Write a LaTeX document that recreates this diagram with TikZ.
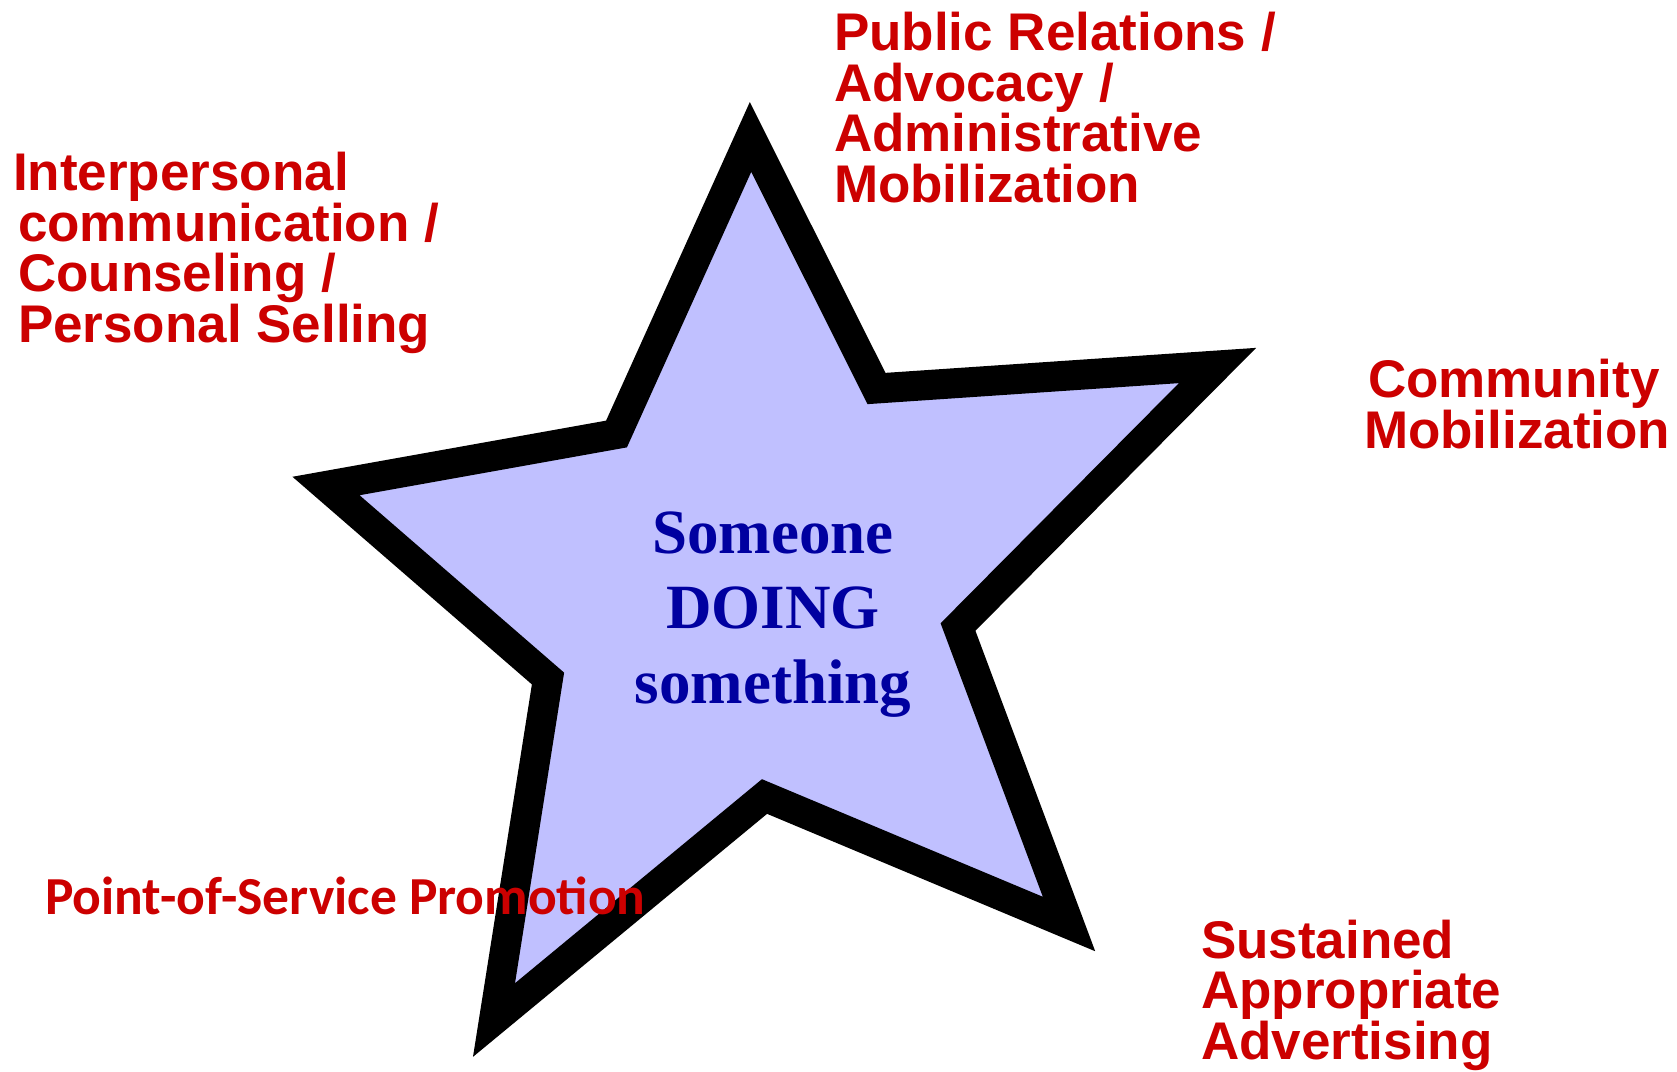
\documentclass[tikz,border=0pt]{standalone}
\usepackage{fontspec}
\newfontfamily\arialf{Liberation Sans}
\newfontfamily\timesf{Liberation Serif}
\newfontfamily\calibf{Carlito}
\definecolor{lav}{RGB}{192,192,255}
\definecolor{lblred}{RGB}{204,0,0}
\definecolor{ctrblue}{RGB}{0,0,160}
\tikzset{
  lbl/.style={inner sep=0pt, outer sep=0pt, anchor=base west, align=left, text=lblred,
    font=\arialf\bfseries\fontsize{53}{50.5}\selectfont},
  ctr/.style={inner sep=0pt, anchor=base, align=center, text=ctrblue,
    font=\timesf\bfseries\fontsize{63}{75}\selectfont},
  starshape/.style={draw=black, fill=lav, line width=30pt, line join=miter, miter limit=10}
}
\begin{document}
\begin{tikzpicture}[x=1pt,y=-1pt]
\useasboundingbox (0,0) rectangle (1677,1071);
% star
\coordinate (t1) at (750.5,137);
\coordinate (n1) at (876.5,388.5);
\coordinate (t2) at (1217.5,365.5);
\coordinate (n2) at (958,627);
\coordinate (t3) at (1069,924);
\coordinate (n3) at (764.5,796.5);
\coordinate (t4) at (494,1020);
\coordinate (n4) at (548,678.5);
\coordinate (t5) at (326,486);
\coordinate (n5) at (616.5,434);
\draw[starshape] (t1) -- (n1) -- (t2) -- (n2) -- (t3) -- (n3) -- (t4) -- (n4) -- (t5) -- (n5) -- cycle;
% centre text (anchor = baseline of last line)
\node[ctr] (centre) at (773,703) {Someone\\DOING\\something};
% labels (anchor = baseline of last line)
\node[lbl] (pr) at (834,202.2) {Public Relations /\\Advocacy /\\Administrative\\Mobilization};
\node[lbl] (ipc) at (13,342) {Interpersonal\\\hspace*{5pt}communication /\\\hspace*{5pt}Counseling /\\\hspace*{5pt}Personal Selling};
\node[lbl] (cm) at (1364,448) {\hspace*{4pt}Community\\Mobilization};
\node[lbl] (sa) at (1201,1059) {Sustained\\Appropriate\\Advertising};
\node[inner sep=0pt, anchor=base west, text=lblred, font=\calibf\bfseries\fontsize{53.5}{60}\selectfont] (pos) at (45,914) {Point-of-Service Promotion};
\end{tikzpicture}
\end{document}
